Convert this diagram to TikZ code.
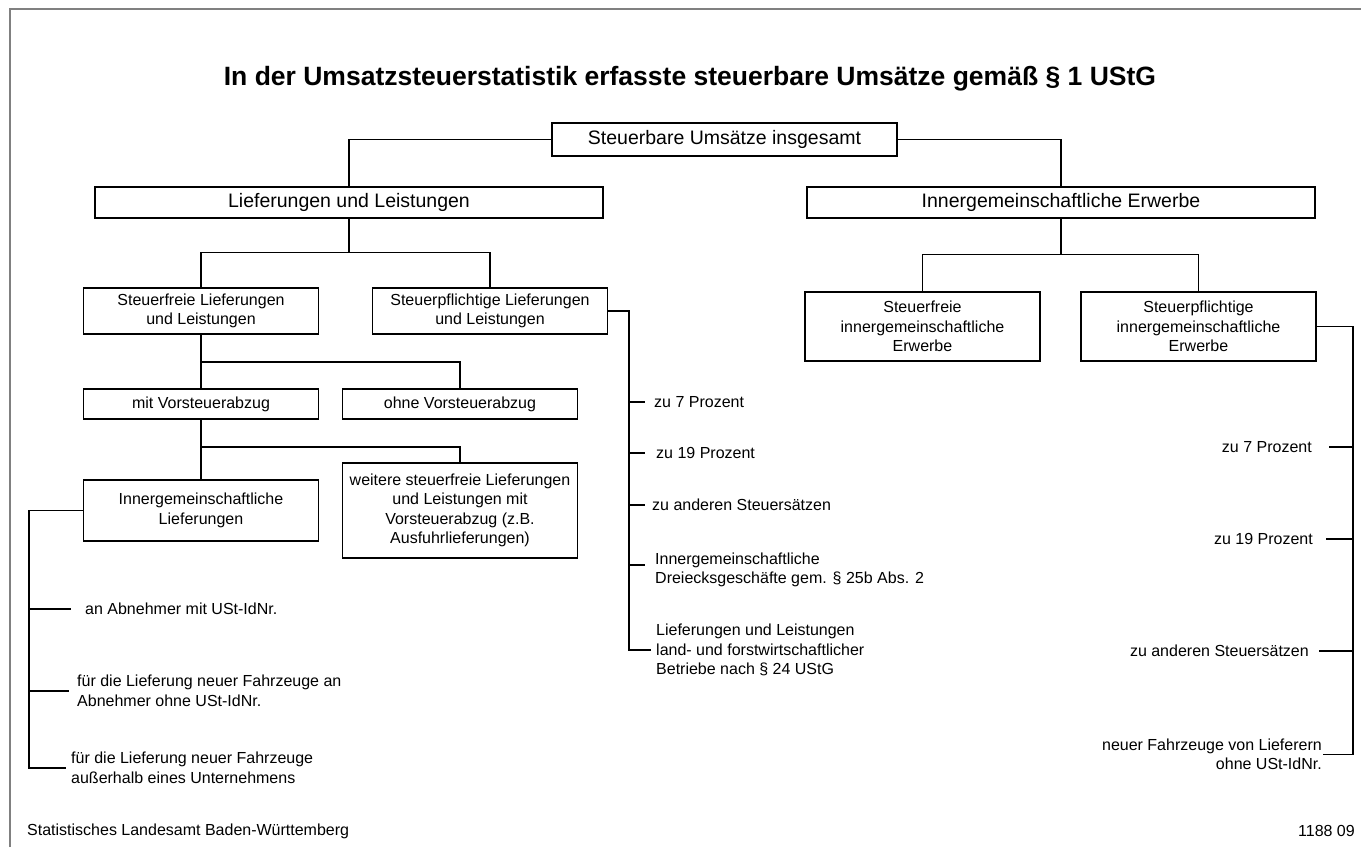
\documentclass[tikz,border=0pt]{standalone}
\usepackage{fontspec}
\setmainfont{Liberation Sans}
\usetikzlibrary{calc}

\begin{document}
\begin{tikzpicture}[x=1pt, y=-1pt,
    box/.style={draw, line width=1.2pt, inner sep=0pt, align=center},
    bigbox/.style={box, font=\fontsize{19.5}{23}\selectfont, minimum width=508pt, minimum height=31pt},
    smallbox/.style={box, font=\fontsize{16}{19.5}\selectfont, minimum width=235pt},
    lbl/.style={inner sep=0pt, font=\fontsize{16}{19.5}\selectfont},
    conn/.style={line width=1.2pt}]

    % 画布与边框
    \useasboundingbox (0,0) rectangle (1361,847);
    \draw[gray, line width=2pt] (10,847) -- (10,9) -- (1361,9);

    % 标题
    \node[font=\fontsize{26.5}{31}\selectfont\bfseries, anchor=base] (title) at (690,85)
        {In der Umsatzsteuerstatistik erfasste steuerbare Umsätze gemäß § 1 UStG};

    % 第一层
    \node[box, font=\fontsize{19.5}{23}\selectfont, minimum width=345pt, minimum height=33pt]
        (total) at (724.5,139.5) {Steuerbare Umsätze insgesamt};
    \node[bigbox] (lul) at (349,202.5) {Lieferungen und Leistungen};
    \node[bigbox] (ige) at (1061,202.5) {Innergemeinschaftliche Erwerbe};
    \draw[conn] (total.west) -| (lul.north);
    \draw[conn] (total.east) -| (ige.north);

    % Lieferungen und Leistungen
    \node[smallbox, minimum height=46pt] (sfl) at (201,311) {Steuerfreie Lieferungen\\und Leistungen};
    \node[smallbox, minimum height=46pt] (spl) at (490,311) {Steuerpflichtige Lieferungen\\und Leistungen};
    \draw[conn] (lul.south) -- ++(0,34) coordinate (f1);
    \draw[conn] (sfl.north) |- (f1) -| (spl.north);

    \node[smallbox, minimum height=30pt] (mit) at (201,404) {mit Vorsteuerabzug};
    \node[smallbox, minimum height=30pt] (ohne) at (460,404) {ohne Vorsteuerabzug};
    \draw[conn] (sfl.south) -- (mit.north);
    \draw[conn] (sfl.south |- 0,362) -| (ohne.north);

    \node[smallbox, minimum height=61pt] (igl) at (201,510.5) {Innergemeinschaftliche\\Lieferungen};
    \node[smallbox, minimum height=95pt] (weit) at (460,510.5)
        {weitere steuerfreie Lieferungen\\und Leistungen mit\\Vorsteuerabzug (z.B.\\Ausfuhrlieferungen)};
    \draw[conn] (mit.south) -- (igl.north);
    \draw[conn] (mit.south |- 0,447) -| (weit.north);

    % Zweige der innergemeinschaftlichen Lieferungen
    \node[lbl, anchor=west] (an) at (85,609) {an Abnehmer mit USt-IdNr.};
    \node[lbl, anchor=west, align=left] (fz1) at (77,691) {für die Lieferung neuer Fahrzeuge an\\Abnehmer ohne USt-IdNr.};
    \node[lbl, anchor=west, align=left] (fz2) at (71,768) {für die Lieferung neuer Fahrzeuge\\außerhalb eines Unternehmens};
    \coordinate (trI) at (29,510.5);
    \draw[conn] (igl.west) -- (trI) -- (trI |- fz2.west) -- ([xshift=-5pt]fz2.west);
    \draw[conn] (trI |- an.west) -- ([xshift=-14pt]an.west);
    \draw[conn] (trI |- fz1.west) -- ([xshift=-8pt]fz1.west);

    % Zweige der steuerpflichtigen Lieferungen
    \node[lbl, anchor=west] (p7) at (654,402) {zu 7 Prozent};
    \node[lbl, anchor=west] (p19) at (656,453) {zu 19 Prozent};
    \node[lbl, anchor=west] (pand) at (652,505) {zu anderen Steuersätzen};
    \node[lbl, anchor=west, align=left] (pdrei) at (655,570) {Innergemeinschaftliche\\Dreiecksgeschäfte gem. § 25b Abs. 2};
    \node[lbl, anchor=west, align=left] (plf) at (656,650) {Lieferungen und Leistungen\\land- und forstwirtschaftlicher\\Betriebe nach § 24 UStG};
    \coordinate (trP) at (629,311);
    \draw[conn] (spl.east) -- (trP) -- (trP |- plf.west) -- ([xshift=-5pt]plf.west);
    \foreach \n in {p7,p19,pand}
        \draw[conn] (trP |- \n.west) -- ++(16,0);
    \draw[conn] (trP |- 0,565) -- ++(16,0);

    % Innergemeinschaftliche Erwerbe
    \node[smallbox, minimum height=69pt] (sfe) at (922.5,326.5) {Steuerfreie\\innergemeinschaftliche\\Erwerbe};
    \node[smallbox, minimum height=69pt] (spe) at (1198.5,326.5) {Steuerpflichtige\\innergemeinschaftliche\\Erwerbe};
    \draw[conn] (ige.south) -- ++(0,36) coordinate (f2);
    \draw[conn] (sfe.north) |- (f2) -| (spe.north);

    % Zweige der steuerpflichtigen Erwerbe
    \node[lbl, anchor=east] (e7) at (1312,447) {zu 7 Prozent};
    \node[lbl, anchor=east] (e19) at (1313,539) {zu 19 Prozent};
    \node[lbl, anchor=east] (eand) at (1309,651) {zu anderen Steuersätzen};
    \node[lbl, anchor=east, align=right] (eneu) at (1322,754.5) {neuer Fahrzeuge von Lieferern\\ohne USt-IdNr.};
    \coordinate (trE) at (1353,326.5);
    \draw[conn] (spe.east) -- (trE) -- (trE |- eneu.east) -- ([xshift=1pt]eneu.east);
    \foreach \n/\g in {e7/17,e19/13,eand/10}
        \draw[conn] ([xshift=\g pt]\n.east) -- (trE |- \n.east);

    % Fußzeile
    \node[lbl, anchor=west] (quelle) at (27,831) {Statistisches Landesamt Baden-Württemberg};
    \node[lbl, anchor=east] (nummer) at (1355,831) {1188 09};

\end{tikzpicture}
\end{document}
